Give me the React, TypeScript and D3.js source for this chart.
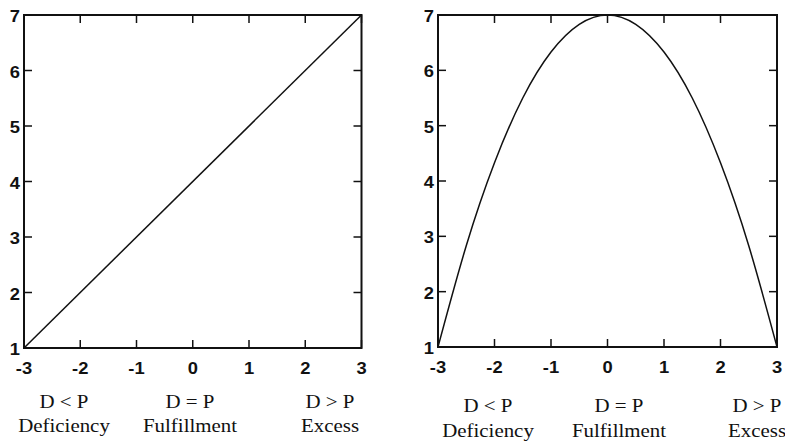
import React from "react";
import * as d3 from "d3";

const xTicks = [-3, -2, -1, 0, 1, 2, 3];
const yTicks = [1, 2, 3, 4, 5, 6, 7];
const linearX = [-3, 3];
const linearY = [1, 7];
const curveX = [-3, -2.5, -2, -1.5, -1, -0.5, 0, 0.5, 1, 1.5, 2, 2.5, 3];
const curveY = [1, 2.83, 4.33, 5.5, 6.33, 6.83, 7, 6.83, 6.33, 5.5, 4.33, 2.83, 1];
const catTop = ["D < P", "D = P", "D > P"];
const catBottom = ["Deficiency", "Fulfillment", "Excess"];

type PanelProps = {
  left: number; right: number; top: number; bottom: number;
  xs: number[]; ys: number[];
  catX: number[]; catY1: number; catY2: number; tickBase: number;
};

const SXT = 1.08;
const SXC = 1.1;

function Panel({ left, right, top, bottom, xs, ys, catX, catY1, catY2, tickBase }: PanelProps) {
  const x = d3.scaleLinear().domain([-3, 3]).range([left, right]);
  const y = d3.scaleLinear().domain([1, 7]).range([bottom, top]);
  const pts: [number, number][] = xs.map((v, i) => [v, ys[i]]);
  const line = d3.line<[number, number]>().x(d => x(d[0])).y(d => y(d[1])).curve(d3.curveNatural);
  const tl = 8;
  const tickFont = { fontFamily: "Liberation Sans, Arial, sans-serif", fontSize: 17, fontWeight: 700 as const, fill: "#111" };
  const catFont = { fontFamily: "Liberation Serif, Times New Roman, serif", fontSize: 19, fill: "#111" };
  return (
    <g>
      <rect x={left} y={top} width={right - left} height={bottom - top} fill="none" stroke="#111" strokeWidth={2} />
      {xTicks.map(t => (
        <g key={"xt" + t}>
          <line x1={x(t)} x2={x(t)} y1={bottom} y2={bottom - tl} stroke="#111" strokeWidth={1.5} />
          <line x1={x(t)} x2={x(t)} y1={top} y2={top + tl} stroke="#111" strokeWidth={1.5} />
          <text transform={`translate(${x(t)},${tickBase}) scale(${SXT},1)`} textAnchor="middle" {...tickFont}>{t}</text>
        </g>
      ))}
      {yTicks.map(t => (
        <g key={"yt" + t}>
          <line x1={left} x2={left + tl} y1={y(t)} y2={y(t)} stroke="#111" strokeWidth={1.5} />
          <line x1={right} x2={right - tl} y1={y(t)} y2={y(t)} stroke="#111" strokeWidth={1.5} />
          <text transform={`translate(${left - 4},${y(t) + 7}) scale(${SXT},1)`} textAnchor="end" {...tickFont}>{t}</text>
        </g>
      ))}
      <path d={line(pts) || ""} fill="none" stroke="#111" strokeWidth={1.5} />
      {catTop.map((c, i) => (
        <g key={"c" + i}>
          <text transform={`translate(${catX[i]},${catY1}) scale(${SXC},1)`} textAnchor="middle" {...catFont}>{c}</text>
          <text transform={`translate(${catX[i]},${catY2}) scale(${SXC},1)`} textAnchor="middle" {...catFont}>{catBottom[i]}</text>
        </g>
      ))}
    </g>
  );
}

export default function App() {
  return (
    <svg width={785} height={443} style={{ position: "absolute", left: 0, top: 0, background: "#fff" }}>
      <rect width={785} height={443} fill="#fff" />
      <Panel left={24} right={361.5} top={15} bottom={348} xs={linearX} ys={linearY}
        catX={[64, 190, 330]} catY1={408} catY2={432} tickBase={374} />
      <Panel left={438} right={777} top={15} bottom={347} xs={curveX} ys={curveY}
        catX={[488, 619, 757]} catY1={412} catY2={437} tickBase={373} />
    </svg>
  );
}
